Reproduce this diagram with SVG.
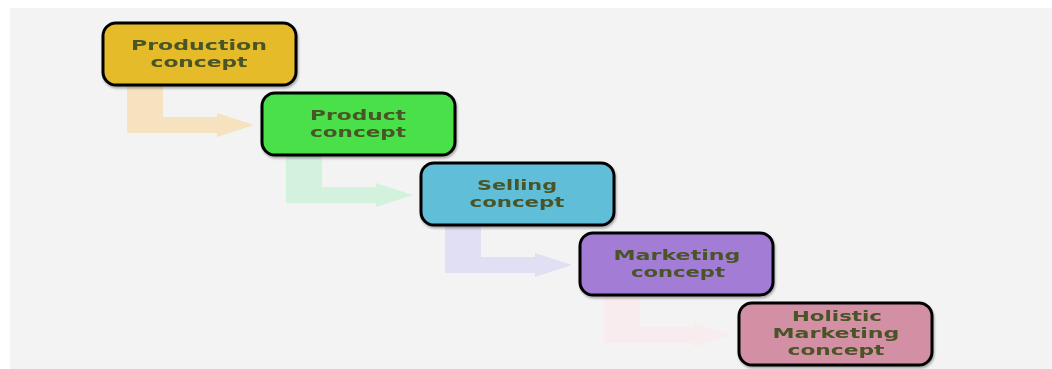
<svg xmlns="http://www.w3.org/2000/svg" width="1052" height="369" viewBox="0 0 1052 369">
<defs>
<style>
.box{stroke:#000;stroke-width:3}
.lbl{font-family:"DejaVu Sans","Liberation Sans",sans-serif;font-weight:bold;font-size:14px;fill:#4a5528;text-anchor:middle}
</style>
<filter id="sh" x="-10%" y="-10%" width="125%" height="130%">
<feDropShadow dx="1" dy="2" stdDeviation="1.2" flood-color="#000" flood-opacity="0.3"/>
</filter>
<path id="arr" d="M0,0 H36 V32 H90 V28 L127,40 L90,52 V48 H0 Z"/>
</defs>
<rect x="0" y="0" width="1052" height="369" fill="#ffffff"/>
<rect x="10" y="8" width="1042" height="361" fill="#f3f3f3"/>
<g id="connectors">
<use href="#arr" x="127" y="85" fill="#f6e2bf"/>
<use href="#arr" x="286" y="155" fill="#d3f2de"/>
<use href="#arr" x="445" y="225" fill="#e0dff3"/>
<use href="#arr" x="604" y="295" fill="#f8ecef"/>
</g>
<g id="production" filter="url(#sh)">
<rect class="box" x="103" y="23" width="193" height="62" rx="13" fill="#e5bb2a"/>
<text class="lbl" x="199" y="50" textLength="136" lengthAdjust="spacingAndGlyphs">Production</text>
<text class="lbl" x="199" y="67" textLength="97" lengthAdjust="spacingAndGlyphs">concept</text>
</g>
<g id="product" filter="url(#sh)">
<rect class="box" x="262" y="93" width="193" height="62" rx="13" fill="#48e048"/>
<text class="lbl" x="358" y="120" textLength="96" lengthAdjust="spacingAndGlyphs">Product</text>
<text class="lbl" x="358" y="137" textLength="96" lengthAdjust="spacingAndGlyphs">concept</text>
</g>
<g id="selling" filter="url(#sh)">
<rect class="box" x="421" y="163" width="193" height="62" rx="13" fill="#61bed8"/>
<text class="lbl" x="517" y="190" textLength="80" lengthAdjust="spacingAndGlyphs">Selling</text>
<text class="lbl" x="517" y="207" textLength="95" lengthAdjust="spacingAndGlyphs">concept</text>
</g>
<g id="marketing" filter="url(#sh)">
<rect class="box" x="580" y="233" width="193" height="62" rx="13" fill="#a27bd5"/>
<text class="lbl" x="677" y="260" textLength="127" lengthAdjust="spacingAndGlyphs">Marketing</text>
<text class="lbl" x="678" y="277" textLength="94" lengthAdjust="spacingAndGlyphs">concept</text>
</g>
<g id="holistic" filter="url(#sh)">
<rect class="box" x="739" y="303" width="193" height="62" rx="13" fill="#d38fa4"/>
<text class="lbl" x="837" y="321" textLength="90" lengthAdjust="spacingAndGlyphs">Holistic</text>
<text class="lbl" x="836" y="338" textLength="127" lengthAdjust="spacingAndGlyphs">Marketing</text>
<text class="lbl" x="836" y="355" textLength="97" lengthAdjust="spacingAndGlyphs">concept</text>
</g>
</svg>
